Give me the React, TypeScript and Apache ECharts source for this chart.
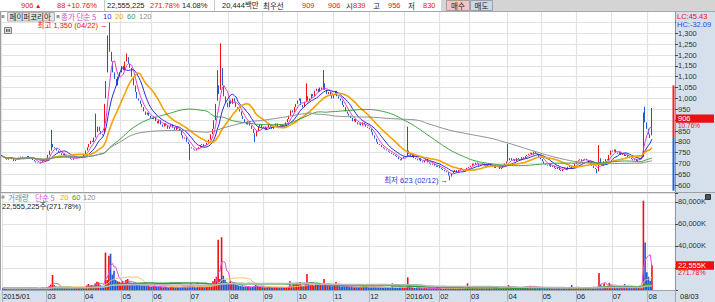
import React, { useEffect, useRef } from "react";
import * as echarts from "echarts";

// ---------------- data ----------------
const HOLIDAYS = [
  "2015-02-18", "2015-02-19", "2015-02-20", "2015-05-01", "2015-05-05", "2015-05-25",
  "2015-08-14", "2015-09-28", "2015-09-29", "2015-10-09", "2015-12-25", "2015-12-31",
  "2016-01-01", "2016-02-08", "2016-02-09", "2016-02-10", "2016-03-01", "2016-04-13",
  "2016-05-05", "2016-05-06", "2016-06-06",
];
const FIRST_DAY = "2015-01-20";
const LAST_DAY = "2016-08-03";
const PAD_SLOTS = 13;

const close2015 = [
  735, 728, 722, 718, 725, 730, 720, 712, 718,
  722, 728, 732, 725, 720, 728, 735, 730, 724, 716, 710, 705, 702, 700, 708, 712, 718,
  725, 740, 760, 790, 775, 770, 760, 752, 748, 740, 745, 735, 728, 732, 722, 718, 725, 728, 730, 726, 732, 735,
  745, 760, 775, 790, 805, 800, 820, 845, 870, 850, 835, 830, 960, 1080, 1265, 1215, 1170, 1120, 1090, 1060, 1100, 1120,
  1150, 1130, 1170, 1190, 1160, 1140, 1100, 1060, 1030, 1000, 990, 975, 960, 940, 925, 935, 920, 910,
  905, 915, 895, 885, 900, 880, 870, 885, 875, 860, 870, 880, 865, 855, 870, 860, 850, 830, 815, 820, 800, 790,
  775, 770, 765, 760, 768, 775, 785, 790, 780, 785, 795, 810, 835, 860, 900, 975, 1060, 1020, 1140, 1060, 1010, 980, 960,
  990, 975, 1000, 985, 960, 950, 940, 920, 905, 890, 880, 895, 875, 860, 840, 825, 850, 870, 880, 865,
  870, 855, 865, 880, 870, 860, 875, 885, 870, 865, 880, 870, 875, 890, 905, 920, 945, 935, 960, 975,
  990, 1000, 970, 960, 985, 1010, 990, 1000, 1020, 1010, 1035, 1045, 1030, 1050, 1040, 1070, 1040, 1020, 1030, 1015, 1000,
  1020, 1035, 1010, 1000, 990, 970, 960, 940, 930, 920, 910, 895, 905, 890, 880, 885, 875, 890, 880, 870, 865,
  860, 845, 830, 815, 800, 790, 785, 775, 770, 765, 760, 755, 750, 745, 740, 735, 730, 720, 715, 725, 730,
];
const close2016 = [
  735, 760, 745, 730, 740, 725, 720, 715, 725, 710, 705, 715, 720, 705, 700, 695, 700, 690, 685, 690,
  680, 675, 670, 665, 660, 645, 640, 655, 665, 670, 660, 670, 680, 675, 665, 670, 680, 685,
  690, 700, 695, 705, 700, 690, 695, 700, 690, 685, 695, 700, 690, 685, 680, 690, 685, 675, 680, 690, 700, 710,
  715, 725, 715, 720, 710, 725, 720, 715, 730, 725, 735, 740, 745, 750, 740, 755, 745, 740, 730, 720,
  710, 700, 695, 690, 700, 685, 690, 680, 675, 685, 670, 665, 675, 680, 670, 685, 690, 675, 680, 700,
  710, 715, 720, 712, 718, 722, 715, 705, 700, 690, 680, 675, 665, 725, 700, 690, 710, 720, 715, 740, 760,
  755, 765, 750, 745, 755, 740, 745, 735, 740, 730, 725, 720, 715, 720, 712, 718, 725, 730, 935, 890, 860,
  835, 818, 906,
];
// volume in thousand shares
const volume2015 = [
  1800, 1500, 1300, 1200, 1600, 1400, 1300, 1700, 1200,
  1400, 1600, 1800, 1300, 1100, 1500, 2000, 1400, 1200, 1300, 1500, 1200, 1100, 1600, 1800, 1500, 1700,
  2500, 3500, 5000, 13600, 4500, 3000, 2500, 2000, 1800, 1700, 2200, 1600, 1500, 1800, 1400, 1500, 1700, 2500, 2000, 1600, 1800, 2200,
  3000, 4000, 5500, 3800, 4500, 3500, 6000, 7500, 7000, 4500, 3500, 3000, 34000, 9000, 31000, 33000, 14000, 17500, 9000, 8000, 7500, 6500,
  8000, 6000, 9000, 10000, 7000, 6000, 5000, 6500, 5500, 5000, 4500, 4000, 4200, 3800, 3500, 4000, 3200, 3000,
  3500, 4000, 3000, 2800, 3200, 2600, 2500, 3000, 2400, 2200, 2600, 3000, 2400, 2200, 2600, 2300, 2500, 3000, 3500, 2800, 3200, 3600,
  6000, 3500, 3000, 2500, 2800, 3000, 3200, 3000, 2600, 2800, 3200, 4000, 6000, 8000, 10000, 12000, 45500, 10000, 47900, 13000, 9000, 7000, 6000,
  8000, 6000, 7000, 5000, 4500, 4000, 3800, 3500, 3000, 3200, 2800, 3000, 2600, 2800, 3500, 4500, 3500, 3000, 2800, 2500,
  2400, 2200, 2600, 2500, 2300, 2000, 2400, 2600, 2200, 2000, 2400, 2200, 2300, 2600, 3000, 8000, 3500, 6000, 5000, 6500,
  5000, 7300, 4000, 3500, 5000, 14500, 6000, 4500, 5000, 4000, 5500, 6000, 4500, 5000, 4500, 10000, 5500, 4500, 4000, 3500, 3500,
  5000, 7300, 4000, 3500, 3200, 3500, 3000, 3200, 2800, 2600, 3000, 2500, 2400, 2600, 2200, 2400, 2000, 2500, 2200, 5000, 2300,
  2200, 2400, 2600, 3000, 2800, 2500, 2400, 2200, 2000, 2300, 2100, 2000, 2200, 6000, 2000, 2100, 1800, 2000, 2200, 2400, 2000,
];
const volume2016 = [
  2500, 11500, 4000, 2500, 2200, 2000, 1800, 1600, 2000, 1700, 1500, 1800, 1600, 1400, 1500, 1300, 1600, 1400, 1500, 1300,
  1400, 1300, 1200, 1500, 1300, 1600, 2000, 1500, 1300, 1200, 1100, 1500, 1800, 1400, 1200, 1300, 6000, 1600,
  1500, 2000, 1600, 1800, 1500, 1300, 1400, 1600, 1300, 1200, 1500, 1800, 1400, 1300, 1200, 1500, 1400, 1300, 1500, 1800, 2200, 2500,
  4500, 3500, 2500, 2200, 2000, 2600, 2400, 2000, 2800, 2500, 3000, 3200, 3500, 3800, 2800, 3500, 2500, 2200, 2000, 1800,
  2000, 1800, 1600, 1500, 1700, 1500, 1600, 1400, 1300, 1500, 1300, 1200, 1400, 1500, 1300, 1600, 1800, 4500, 1400, 2000,
  2500, 2200, 2000, 2400, 2200, 2600, 2000, 1800, 1700, 1600, 2000, 1800, 2500, 15500, 5000, 3500, 6000, 3200, 3500, 6500, 4500,
  4000, 3500, 3000, 2800, 3200, 2600, 2500, 5400, 2400, 2200, 2000, 2200, 2400, 2000, 2600, 3000, 4000, 3500, 81000, 43000, 16000,
  12000, 8300, 22555,
];
// [day index, value]
const openGaps = [[0, 740], [60, 840], [61, 1000], [62, 1120], [63, 1300], [126, 990], [128, 1040], [375, 730], [376, 940], [380, 839]];
const highWicks = [[29, 855], [55, 930], [60, 975], [62, 1290], [63, 1350], [73, 1207], [126, 1130], [128, 1254], [178, 1070], [188, 1131], [237, 870], [296, 790], [349, 785], [376, 962], [380, 956]];
const lowWicks = [[110, 716], [148, 800], [262, 623], [348, 655], [380, 830]];

const PREV_CLOSE = 818;
const UPPER_LIMIT = 1060;
const LOWER_LIMIT = 575;
const PRICE_MIN = 570;
const PRICE_MAX = 1400;
const PRICE_TICKS = [600, 650, 700, 750, 800, 850, 900, 950, 1000, 1050, 1100, 1150, 1200, 1250, 1300, 1350, 1400];
const PRICE_LABELS = [600, 650, 700, 750, 800, 850, 900, 950, 1000, 1050, 1100, 1150, 1200, 1250, 1300];
const VOL_MAX = 88000;
const VOL_STEP = 20000;
const VOL_LABELS = [40000, 60000, 80000];
const MA_PRICE = [5, 10, 20, 60, 120];
const MA_VOL = [5, 20, 60, 120];

const STOCK_NAME = "페이퍼코리아";
const HDR_CHANGE = 88;
const HDR_CHANGE_PCT = "+10.76%";
const HDR_VOLUME = "22,555,225";
const HDR_VOL_RATIO = "271.78%";
const HDR_TURNOVER = "14.08%";
const HDR_VALUE = "20,444백만";
const HDR_ASK = 909;
const HDR_BID = 906;
const HDR_OPEN = 839;
const HDR_HIGH = 956;
const HDR_LOW = 830;
const LC_TEXT = "LC:45.43";
const HC_TEXT = "HC:-32.09";
const PCT_TEXT = "10.76%";
const VOL_SUB = "22,555,225주(271.78%)";

// ---------------- styles ----------------
const RED = "#F01010";
const BLUE = "#1F5BD6";
const FONT = "'Liberation Sans', 'Noto Sans CJK KR', sans-serif";
const KFONT = "'Noto Sans CJK KR', 'Liberation Sans', sans-serif";
const FS = 7.5;
const MA_COLORS: Record<number, string> = { 5: "#E040D0", 10: "#2A2AD8", 20: "#F5A300", 60: "#3CA040", 120: "#8C8C8C" };
const VMA_COLORS: Record<number, string> = { 5: "#E050E0", 20: "#F5C060", 60: "#2E9E3E", 120: "#B8B8B8" };
const GRID_LINE = "#E2E2E2";
const PANEL_BG = "#D5E0EC";

const fmt = (n: number) => Math.round(n).toString().replace(/\B(?=(\d{3})+(?!\d))/g, ",");

function tradingDays(): string[] {
  const out: string[] = [];
  const d = new Date(FIRST_DAY + "T00:00:00Z");
  const end = new Date(LAST_DAY + "T00:00:00Z").getTime();
  while (d.getTime() <= end) {
    const wd = d.getUTCDay();
    const s = d.toISOString().slice(0, 10);
    if (wd !== 0 && wd !== 6 && HOLIDAYS.indexOf(s) < 0) out.push(s);
    d.setUTCDate(d.getUTCDate() + 1);
  }
  return out;
}

function sma(arr: number[], n: number) {
  return arr.map((_, i) => {
    const s = Math.max(0, i - n + 1);
    let t = 0;
    for (let k = s; k <= i; k++) t += arr[k];
    return +(t / (i - s + 1)).toFixed(2);
  });
}

export default function App() {
  const ref = useRef<HTMLDivElement>(null);
  useEffect(() => {
    document.body.style.margin = "0";
    const chart = echarts.init(ref.current!, null, { renderer: "svg" });

    const dates = tradingDays();
    const closes = close2015.concat(close2016);
    const vols = volume2015.concat(volume2016);
    const n = closes.length;
    const cats = dates.slice(0, n).concat(Array.from({ length: PAD_SLOTS }, (_, i) => "pad" + i));
    const lastClose = closes[n - 1];

    const opens = closes.map((c, i) => (i === 0 ? c : closes[i - 1]));
    openGaps.forEach(([i, v]) => (opens[i] = v));
    const highs = closes.map((c, i) => Math.max(c, opens[i]));
    const lows = closes.map((c, i) => Math.min(c, opens[i]));
    highWicks.forEach(([i, v]) => (highs[i] = v));
    lowWicks.forEach(([i, v]) => (lows[i] = v));

    const candleData = closes.map((c, i) => [opens[i], c, lows[i], highs[i]]);
    const volData = vols.map((v, i) => ({
      value: v,
      itemStyle: { color: closes[i] >= opens[i] ? RED : BLUE },
    }));

    const shown = new Set<number>();
    let last = -100;
    cats.forEach((d, i) => {
      if (d.startsWith("pad")) return;
      const ms = i === 0 || d.slice(0, 7) !== cats[i - 1].slice(0, 7);
      if (ms && i - last >= 12) {
        shown.add(i);
        last = i;
      }
    });
    const intervalFn = (idx: number) => shown.has(idx);

    // labels hidden under the current-price box are not drawn (as in the reference)
    const priceLabels = PRICE_LABELS.filter((v) => Math.abs(v - lastClose) >= 30);

    const GL = 1, GR = 40;

    const option: any = {
      animation: false,
      backgroundColor: "#ffffff",
      grid: [
        { left: GL, right: GR, top: 11.6, height: 180.2 },
        { left: GL, right: GR, top: 193, height: 97 },
      ],
      xAxis: [
        {
          type: "category", gridIndex: 0, data: cats, boundaryGap: true,
          axisLine: { show: false }, axisTick: { show: false }, axisLabel: { show: false },
          splitLine: { show: true, interval: intervalFn, lineStyle: { color: GRID_LINE, width: 1.2 } },
        },
        {
          type: "category", gridIndex: 1, data: cats, boundaryGap: true,
          axisLine: { show: true, lineStyle: { color: "#9AA6B4", width: 1 } },
          axisTick: { show: true, interval: intervalFn, length: 12, lineStyle: { color: "#A8B4C2" } },
          axisLabel: {
            show: true, interval: intervalFn, margin: 3, align: "left",
            fontSize: FS, fontFamily: FONT, color: "#222",
            formatter: (v: string, i: number) => {
              if (v.startsWith("pad")) return "";
              const mm = v.slice(5, 7);
              return i === 0 || mm === "01" ? v.slice(0, 4) + "/" + mm : mm;
            },
          },
          splitLine: { show: true, interval: intervalFn, lineStyle: { color: GRID_LINE, width: 1.2 } },
        },
      ],
      yAxis: [
        {
          type: "value", gridIndex: 0, position: "right", min: PRICE_MIN, max: PRICE_MAX, scale: true,
          axisLine: { show: true, lineStyle: { color: "#8A96A4" } },
          axisTick: { show: true, length: 3, customValues: PRICE_TICKS, lineStyle: { color: "#444" } },
          axisLabel: {
            show: true, customValues: priceLabels, margin: 3, fontSize: FS, fontFamily: FONT, color: "#333",
            formatter: (v: number) => fmt(v),
          },
          splitLine: { show: true, lineStyle: { color: GRID_LINE, width: 1.2 } },
        },
        {
          type: "value", gridIndex: 1, position: "right", min: 0, max: VOL_MAX, interval: VOL_STEP,
          axisLine: { show: true, lineStyle: { color: "#8A96A4" } },
          axisTick: { show: true, length: 3, lineStyle: { color: "#444" } },
          axisLabel: {
            show: true, margin: 3, fontSize: FS, fontFamily: FONT, color: "#333",
            formatter: (v: number) => (VOL_LABELS.indexOf(v) >= 0 ? fmt(v) + "K" : ""),
          },
          splitLine: { show: true, lineStyle: { color: GRID_LINE, width: 1.2 } },
        },
      ],
      series: [
        {
          type: "candlestick", xAxisIndex: 0, yAxisIndex: 0, data: candleData, barWidth: 1.2, z: 2,
          itemStyle: { color: RED, color0: BLUE, borderColor: RED, borderColor0: BLUE, borderWidth: 1 },
        },
        ...MA_PRICE.map((p) => ({
          type: "line", xAxisIndex: 0, yAxisIndex: 0, data: sma(closes, p), showSymbol: false, symbol: "none",
          z: 3, lineStyle: { color: MA_COLORS[p], width: p === 20 ? 1.6 : 1 },
        })),
        {
          type: "bar", xAxisIndex: 1, yAxisIndex: 1, data: volData, barWidth: 1.6, z: 2,
        },
        ...MA_VOL.map((p) => ({
          type: "line", xAxisIndex: 1, yAxisIndex: 1, data: sma(vols, p), showSymbol: false, symbol: "none",
          z: 3, lineStyle: { color: VMA_COLORS[p], width: p === 60 || p === 120 ? 1.6 : 1 },
        })),
      ],
    };
    chart.setOption(option);

    // ------------- graphics computed through the axes -------------
    const py = (v: number) => chart.convertToPixel({ yAxisIndex: 0 } as any, v) as number;
    const vy = (v: number) => chart.convertToPixel({ yAxisIndex: 1 } as any, v) as number;
    const px = (i: number) => chart.convertToPixel({ xAxisIndex: 0 } as any, i) as number;

    const T = (x: number, y: number, text: string, fill: string, extra: any = {}) => ({
      type: "text", x, y, z: 60,
      style: { text, fill, fontSize: extra.size || FS, fontFamily: extra.font || FONT, align: extra.align || "left", verticalAlign: "middle", lineHeight: extra.size || FS },
    });
    const R = (x: number, y: number, w: number, h: number, fill: string, stroke?: string, z = 55) => ({
      type: "rect", z, shape: { x, y, width: w, height: h }, style: { fill, stroke: stroke || null, lineWidth: stroke ? 1 : 0 },
    });
    const L = (x1: number, y1: number, x2: number, y2: number, stroke: string, z = 55) => ({
      type: "line", z, shape: { x1, y1, x2, y2 }, style: { stroke, lineWidth: 1 },
    });

    let hiIdx = 0, loIdx = 0;
    highs.forEach((h, i) => { if (h > highs[hiIdx]) hiIdx = i; });
    lows.forEach((l, i) => { if (l < lows[loIdx]) loIdx = i; });
    const mmdd = (d: string) => d.slice(5, 7) + "/" + d.slice(8, 10);

    const g: any[] = [];
    // backgrounds
    g.push(R(675, 11, 40, 291, PANEL_BG, undefined, -1));
    g.push(R(0, 290, 675, 12, PANEL_BG, undefined, -1));
    // header row
    g.push(R(0, 0, 715, 11, "#ffffff", undefined, 40));
    g.push(R(441, 0, 274, 11, "#D4D4D4", undefined, 41));
    g.push(L(0, 11.5, 715, 11.5, "#A8A8A8", 42));
    g.push(L(104.5, 0, 104.5, 11, "#C8C8C8", 42));
    g.push(L(214.5, 0, 214.5, 11, "#C8C8C8", 42));
    g.push(R(446.5, 0.5, 23, 10, "#F3C4C4", "#A0A0A0", 43));
    g.push(R(470.5, 0.5, 22, 10, "#C8D8F0", "#A0A0A0", 43));
    const hy = 5.5;
    g.push(T(21, hy, String(lastClose), RED));
    g.push(T(35, hy, "▲", RED, { size: 6.5 }));
    g.push(T(57, hy, String(HDR_CHANGE), RED));
    g.push(T(67, hy, HDR_CHANGE_PCT, RED));
    g.push(T(107, hy, HDR_VOLUME, "#222"));
    g.push(T(150, hy, HDR_VOL_RATIO, RED));
    g.push(T(182, hy, HDR_TURNOVER, "#222"));
    g.push(T(222, hy, HDR_VALUE, "#222"));
    g.push(T(263, hy, "최우선", "#222", { font: KFONT }));
    g.push(T(302, hy, String(HDR_ASK), RED));
    g.push(T(328, hy, String(HDR_BID), RED));
    g.push(T(346, hy, "시", "#222", { font: KFONT }));
    g.push(T(353, hy, String(HDR_OPEN), RED));
    g.push(T(373, hy, "고", "#222", { font: KFONT }));
    g.push(T(388, hy, String(HDR_HIGH), RED));
    g.push(T(408, hy, "저", "#222", { font: KFONT }));
    g.push(T(423, hy, String(HDR_LOW), RED));
    g.push(T(458, hy, "매수", "#222", { font: KFONT, align: "center" }));
    g.push(T(481.5, hy, "매도", "#222", { font: KFONT, align: "center" }));

    // price legend row
    const ly = 16.5;
    g.push(R(1.5, 15, 3, 3, "#999"));
    g.push(R(7.5, 12.5, 47, 8.5, "#E4E4E4", "#B0B0B0"));
    g.push(T(9.5, ly, STOCK_NAME, "#222", { font: KFONT }));
    g.push(R(56.5, 15, 3, 3, "#999"));
    g.push(T(61, ly, "종가 단순 " + MA_PRICE[0], MA_COLORS[5], { font: KFONT }));
    const legendX = [103, 115, 127, 139];
    MA_PRICE.slice(1).forEach((p, k) => g.push(T(legendX[k], ly, String(p), MA_COLORS[p])));
    // small toolbox icon
    g.push(R(4.5, 27.5, 7, 6, "#E0E0E0", "#808080"));
    g.push(L(6.5, 29, 6.5, 32, "#606060", 56));
    g.push(L(8, 29, 8, 32, "#606060", 56));
    g.push(L(9.5, 29, 9.5, 32, "#606060", 56));

    // max / min annotations
    const hx = px(hiIdx), hyy = py(highs[hiIdx]);
    g.push(T(hx - 2, hyy + 3.5, "최고 " + fmt(highs[hiIdx]) + " (" + mmdd(dates[hiIdx]) + ") →", RED, { align: "right", size: 7.5 }));
    const lx = px(loIdx), lyy = py(lows[loIdx]);
    g.push(T(lx - 2, lyy + 0.5, "최저 " + fmt(lows[loIdx]) + " (" + mmdd(dates[loIdx]) + ") →", "#2040D0", { align: "right", size: 7.5 }));

    // price limit bar
    const yUp = py(UPPER_LIMIT), yPrev = py(PREV_CLOSE), yLow = Math.min(py(LOWER_LIMIT), 191.5);
    g.push(R(672.5, yUp, 2, yPrev - yUp, "#F02020", undefined, 20));
    g.push(R(672.5, yPrev, 2, yLow - yPrev, "#2060D8", undefined, 20));

    // right panel texts
    g.push(R(676, 12, 39, 18, PANEL_BG, undefined, 50));
    g.push(T(677, 16, LC_TEXT, RED));
    g.push(T(677, 24.5, HC_TEXT, "#2050D0"));
    const cy = py(lastClose);
    g.push(R(676, cy - 4.3, 38, 8.3, "#E81010", undefined, 58));
    g.push(T(678, cy - 0.1, String(lastClose), "#ffffff"));
    g.push(T(678, cy + 6.6, PCT_TEXT, RED, { size: 6.5 }));

    // volume panel
    g.push(L(0, 192.5, 715, 192.5, "#A0A0A0", 45));
    g.push(L(0.5, 11, 0.5, 290, "#A0A0A0", 45));
    g.push(R(1.5, 195.5, 3, 3, "#999"));
    g.push(T(8, 197, "거래량", "#2AA0B8", { font: KFONT }));
    g.push(T(35, 197, "단순 " + MA_VOL[0], VMA_COLORS[5], { font: KFONT }));
    const vlegX = [60, 72, 83];
    MA_VOL.slice(1).forEach((p, k) => g.push(T(vlegX[k], 197, String(p), p === 20 ? "#F0A800" : p === 120 ? "#909090" : VMA_COLORS[p])));
    g.push(T(2, 206, VOL_SUB, "#222"));
    g.push(R(705.5, 194.5, 5, 5, "#505050", "#303030", 56));
    const vly = vy(vols[n - 1]);
    g.push(R(676, vly - 4, 38, 8.5, "#E81010", undefined, 58));
    g.push(T(678, vly + 0.3, fmt(vols[n - 1]) + "K", "#ffffff"));
    g.push(T(678, vly + 7.6, HDR_VOL_RATIO, RED, { size: 7 }));
    // current date
    g.push(L(675.5, 290, 675.5, 302, "#9AA6B4", 45));
    g.push(T(680, 296.5, mmdd(dates[n - 1]), "#222"));

    chart.setOption({ graphic: g });
    return () => chart.dispose();
  }, []);
  return <div ref={ref} style={{ width: 715, height: 302 }} />;
}
